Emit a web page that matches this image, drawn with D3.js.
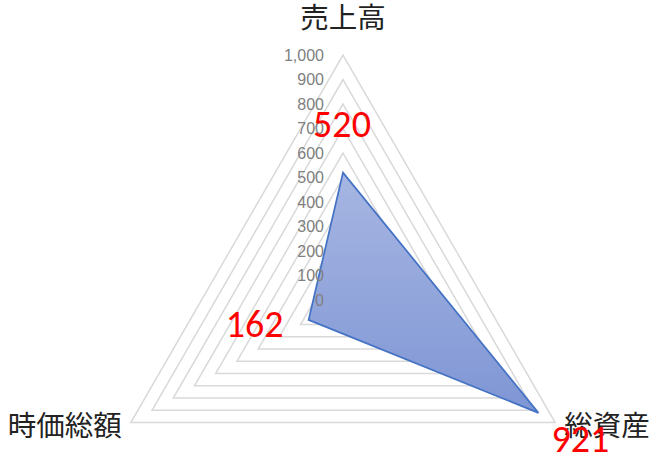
<!DOCTYPE html>
<html>
<head>
<meta charset="utf-8">
<script src="https://cdn.jsdelivr.net/npm/d3@7"></script>
<style>
  html, body { margin: 0; padding: 0; background: #fff; }
  svg { display: block; }
</style>
</head>
<body>
<svg width="667" height="465"></svg>
<script>
// radar chart: 売上高 / 総資産 / 時価総額

const categories = ["売上高", "総資産", "時価総額"];
const values = [520, 921, 162];
const tickValues = [0, 100, 200, 300, 400, 500, 600, 700, 800, 900, 1000];
const maxValue = 1000;

// where the red value labels sit relative to each point (dx, dy, anchor)
const labelOffsets = [
    { dx: -1, dy: -36, anchor: "middle" },
    { dx: 42, dy: 39, anchor: "middle" },
    { dx: -25, dy: 17, anchor: "end" }
];

const svg = d3.select("svg");
const g = svg.append("g");

const cx = 343, cy = 300, radius = 245;

const r = d3.scaleLinear().domain([0, maxValue]).range([0, radius]);

const angle = d3.scalePoint()
    .domain(d3.range(categories.length + 1))
    .range([-Math.PI / 2, -Math.PI / 2 + 2 * Math.PI]);

function pointAt(i, v) {
    const a = angle(i);
    return [cx + r(v) * Math.cos(a), cy + r(v) * Math.sin(a)];
}

// gradient for the filled area
const defs = svg.append("defs");
const grad = defs.append("linearGradient")
    .attr("id", "fillGrad")
    .attr("x1", 0).attr("y1", 0)
    .attr("x2", 0).attr("y2", 1);
grad.append("stop").attr("offset", "0%").attr("stop-color", "#a7b6e2");
grad.append("stop").attr("offset", "100%").attr("stop-color", "#7f96d5");

// grid triangles
g.append("g")
    .selectAll("path")
    .data(tickValues.filter(t => t > 0))
    .enter().append("path")
    .attr("d", t => "M" + categories.map((c, i) => pointAt(i, t).join(",")).join("L") + "Z")
    .attr("fill", "none")
    .attr("stroke", "#d9d9d9")
    .attr("stroke-width", 1.5);

// data area
const line = d3.line().curve(d3.curveLinearClosed);
g.append("path")
    .attr("d", line(values.map((v, i) => pointAt(i, v))))
    .attr("fill", "url(#fillGrad)")
    .attr("stroke", "#4472c4")
    .attr("stroke-width", 1.75)
    .attr("stroke-linejoin", "miter");

// value axis labels
g.append("g")
    .selectAll("text")
    .data(tickValues)
    .enter().append("text")
    .attr("x", cx - 19)
    .attr("y", t => pointAt(0, t)[1])
    .attr("dy", "0.36em")
    .attr("text-anchor", "end")
    .attr("font-family", "'Liberation Sans', Arial, sans-serif")
    .attr("font-size", 16)
    .attr("fill", "#808080")
    .text(d3.format(","));

// category labels
const catOffsets = [
    { dx: 0, dy: -27, anchor: "middle" },
    { dx: 9, dy: 13, anchor: "start" },
    { dx: -9, dy: 13, anchor: "end" }
];
g.append("g")
    .selectAll("text")
    .data(categories)
    .enter().append("text")
    .attr("x", (d, i) => pointAt(i, maxValue)[0] + catOffsets[i].dx)
    .attr("y", (d, i) => pointAt(i, maxValue)[1] + catOffsets[i].dy)
    .attr("text-anchor", (d, i) => catOffsets[i].anchor)
    .attr("font-family", "'Noto Sans CJK JP', sans-serif")
    .attr("font-size", 28.5)
    .attr("fill", "#222")
    .text(d => d);

// red value labels
g.append("g")
    .selectAll("text")
    .data(values)
    .enter().append("text")
    .attr("x", (d, i) => pointAt(i, d)[0] + labelOffsets[i].dx)
    .attr("y", (d, i) => pointAt(i, d)[1] + labelOffsets[i].dy)
    .attr("text-anchor", (d, i) => labelOffsets[i].anchor)
    .attr("font-family", "Carlito, Calibri, 'Liberation Sans', sans-serif")
    .attr("font-size", 38)
    .attr("fill", "#ff0000")
    .text(d => d);
</script>
</body>
</html>
